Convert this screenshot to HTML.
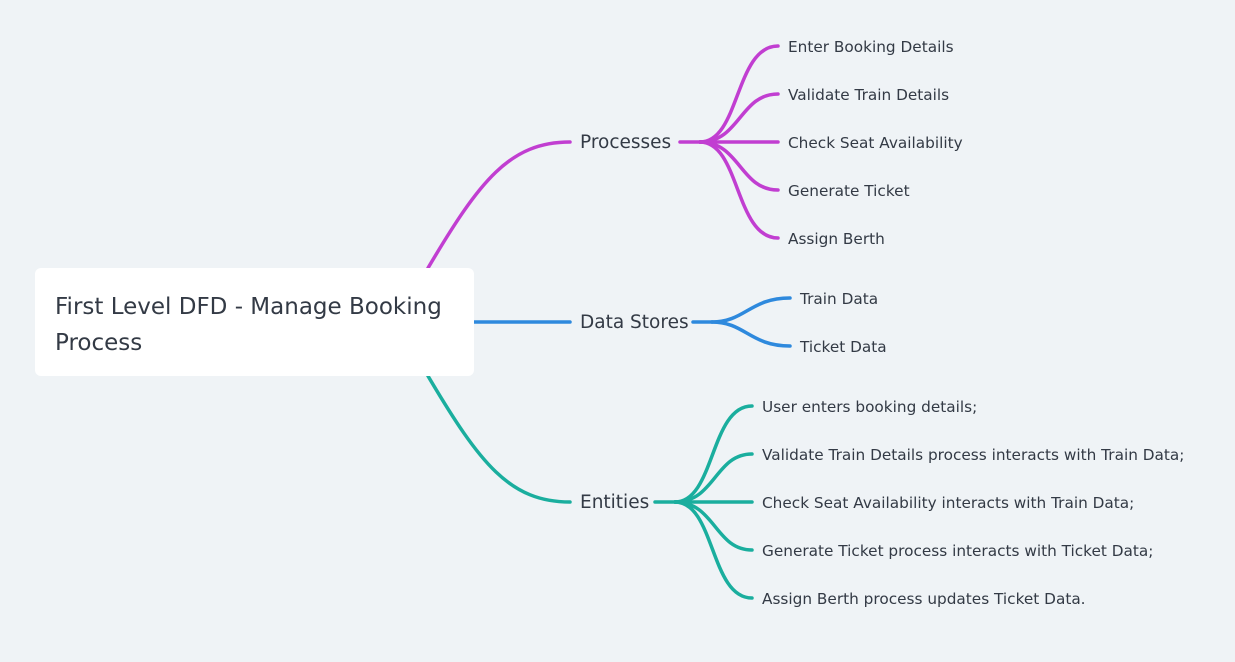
<!DOCTYPE html>
<html><head><meta charset="utf-8"><style>
body{margin:0;width:1235px;height:662px;background:#eff3f6;overflow:hidden;position:relative;font-family:"DejaVu Sans","Liberation Sans",sans-serif;color:#333a45}
.box{position:absolute;left:35px;top:268px;width:439px;height:108px;background:#fff;border-radius:6px}
.t{position:absolute;white-space:nowrap;line-height:1}
.r{font-size:23px;left:55px}
.m{font-size:18.5px;left:580px}
.s{font-size:15.3px}
</style></head><body>
<svg width="1235" height="662" style="position:absolute;left:0;top:0" fill="none" stroke-width="3.5" stroke-linecap="round">
<g stroke="#c13ed1">
<path d="M428 268 C480 180 510 142 570 142"/>
<path d="M680 142 H700"/>
<path d="M700 142 C740 142 735 46 778 46"/>
<path d="M700 142 C740 142 740 94 778 94"/>
<path d="M700 142 H778"/>
<path d="M700 142 C740 142 740 190 778 190"/>
<path d="M700 142 C740 142 735 238 778 238"/>
</g>
<g stroke="#2e89dd">
<path d="M474 322 H570"/>
<path d="M693 322 H712"/>
<path d="M712 322 C745 322 750 298 790 298"/>
<path d="M712 322 C745 322 750 346 790 346"/>
</g>
<g stroke="#1aae9e">
<path d="M428 376 C480 464 510 502 570 502"/>
<path d="M655 502 H675"/>
<path d="M675 502 C715 502 710 406 752 406"/>
<path d="M675 502 C715 502 715 454 752 454"/>
<path d="M675 502 H752"/>
<path d="M675 502 C715 502 715 550 752 550"/>
<path d="M675 502 C715 502 710 598 752 598"/>
</g>
</svg>
<div class="box"></div>
<div class="t r" style="top:296px">First Level DFD - Manage Booking</div>
<div class="t r" style="top:332px">Process</div>
<div class="t m" style="top:134px">Processes</div>
<div class="t m" style="top:314px">Data Stores</div>
<div class="t m" style="top:494px">Entities</div>
<div class="t s" style="left:788px;top:40px">Enter Booking Details</div>
<div class="t s" style="left:788px;top:88px">Validate Train Details</div>
<div class="t s" style="left:788px;top:136px">Check Seat Availability</div>
<div class="t s" style="left:788px;top:184px">Generate Ticket</div>
<div class="t s" style="left:788px;top:232px">Assign Berth</div>
<div class="t s" style="left:800px;top:292px">Train Data</div>
<div class="t s" style="left:800px;top:340px">Ticket Data</div>
<div class="t s" style="left:762px;top:400px">User enters booking details;</div>
<div class="t s" style="left:762px;top:448px">Validate Train Details process interacts with Train Data;</div>
<div class="t s" style="left:762px;top:496px">Check Seat Availability interacts with Train Data;</div>
<div class="t s" style="left:762px;top:544px">Generate Ticket process interacts with Ticket Data;</div>
<div class="t s" style="left:762px;top:592px">Assign Berth process updates Ticket Data.</div>
</body></html>
